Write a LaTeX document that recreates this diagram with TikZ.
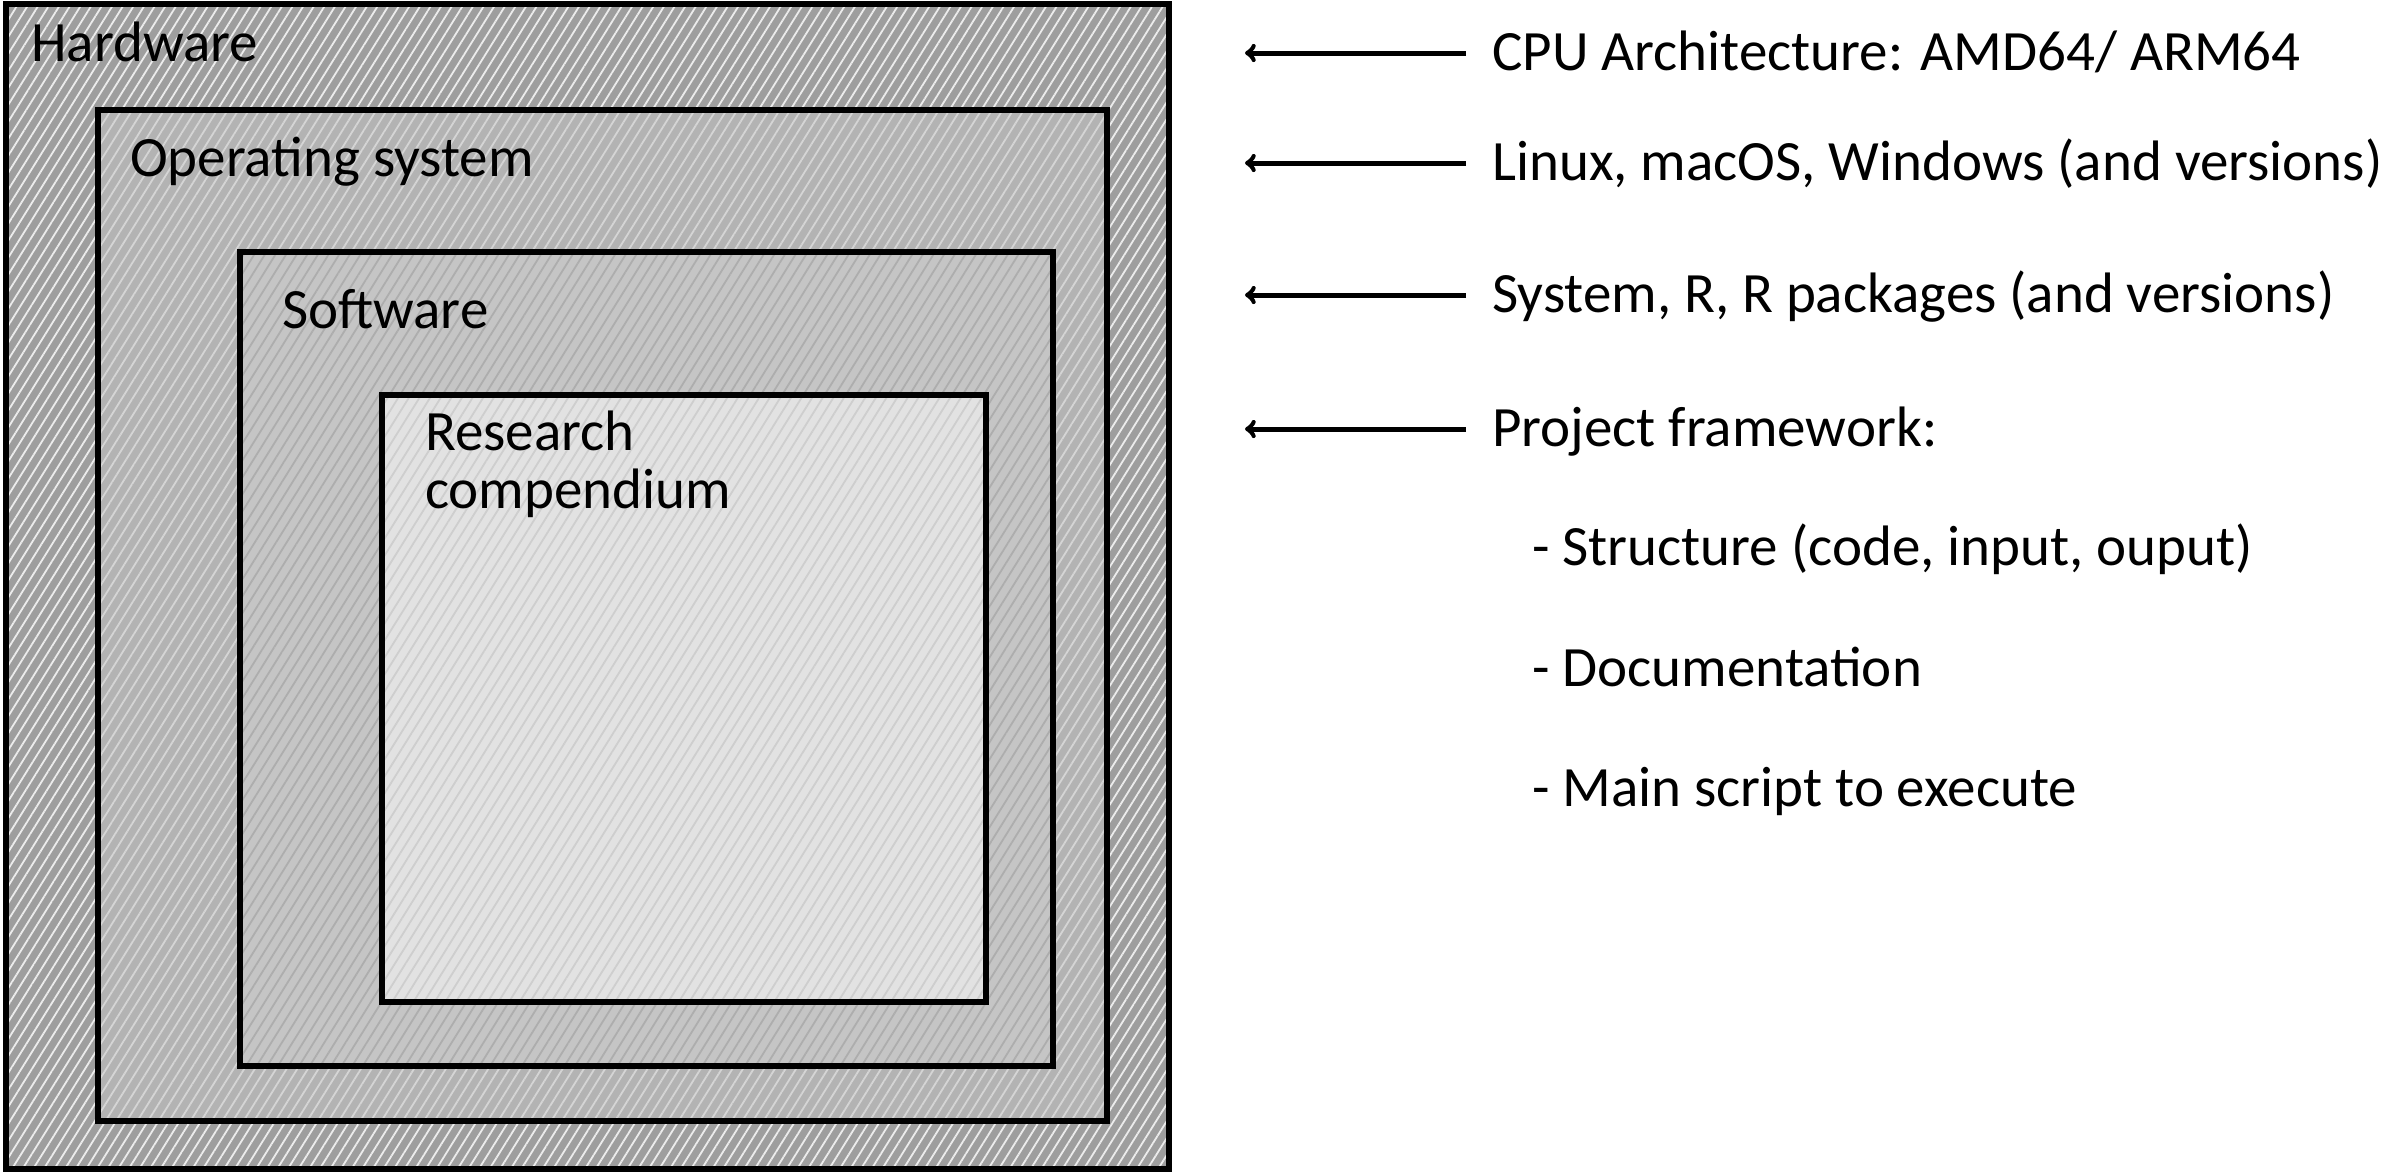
\documentclass[tikz,border=0pt]{standalone}
\usepackage{xcolor}
\usepackage{fontspec}
\setmainfont{Carlito}
\usepackage{tikz}
\usetikzlibrary{positioning,arrows,patterns.meta}

\definecolor{hwgray}{HTML}{9E9E9E}
\definecolor{osgray}{HTML}{B3B3B3}
\definecolor{swgray}{HTML}{C5C5C5}
\definecolor{rcgray}{HTML}{E2E2E2}

\begin{document}
\begin{tikzpicture}[x=1pt,y=-1pt,node distance=120pt,on grid,font=\fontsize{57}{68}\selectfont]
        \tikzstyle{layer}=[draw=black,line width=6pt,anchor=north west,inner sep=0,pattern={Lines[angle=58,distance=9pt,line width=1.8pt]}]
        \tikzstyle{lyrtext}=[anchor=base west,inner sep=0]
        \tikzstyle{info}=[anchor=west,inner sep=0,text height=44pt,text depth=10pt]
        \tikzstyle{arr}=[->,>=to,line width=5pt,shorten <=26pt]
        \useasboundingbox (0,0) rectangle (2395,1171);
        % nested layers
        \node[layer,preaction={fill=hwgray},pattern color=white!80!hwgray,minimum width=1163pt,minimum height=1165pt] (Hw) at (5,3) {};
        \node[layer,preaction={fill=osgray},pattern color=white!45!osgray,minimum width=1009pt,minimum height=1011pt] (Os) at (95,107) {};
        \node[layer,preaction={fill=swgray},pattern color=black!12!swgray,minimum width=813pt,minimum height=814pt] (Sw) at (237,249) {};
        \node[layer,preaction={fill=rcgray},pattern color=black!9!rcgray,minimum width=604pt,minimum height=607pt] (Rc) at (379,392) {};
        \node[lyrtext] (HwT) at (31,61) {Hardware};
        \node[lyrtext] (OsT) at (130,176) {Operating system};
        \node[lyrtext] (SwT) at (282,328) {Software};
        \node[lyrtext] (RcT) at (425,450) {Research};
        \node[lyrtext] (RcT2) [below=58pt of RcT.base west,anchor=base west] {compendium};
        % descriptions
        \node[info] (Cpu) at (1492,53) {CPU Architecture: AMD64/ ARM64};
        \node[info] (Sys) at (1492,163) {Linux, macOS, Windows (and versions)};
        \node[info] (Pkg) at (1492,295) {System, R, R packages (and versions)};
        \node[info] (Prj) at (1492,429) {Project framework:};
        \node[info] (St) at (1532,548) {- Structure (code, input, ouput)};
        \node[info] (Doc) [below=121pt of St.west,anchor=west] {- Documentation};
        \node[info] (Main) [below=120pt of Doc.west,anchor=west] {- Main script to execute};
        \coordinate[left=247pt of Cpu.west] (CpuTip);
        \coordinate[left=247pt of Sys.west] (SysTip);
        \coordinate[left=247pt of Pkg.west] (PkgTip);
        \coordinate[left=247pt of Prj.west] (PrjTip);
        \draw[arr] (Cpu.west) -- (CpuTip);
        \draw[arr] (Sys.west) -- (SysTip);
        \draw[arr] (Pkg.west) -- (PkgTip);
        \draw[arr] (Prj.west) -- (PrjTip);
    \end{tikzpicture}
\end{document}
